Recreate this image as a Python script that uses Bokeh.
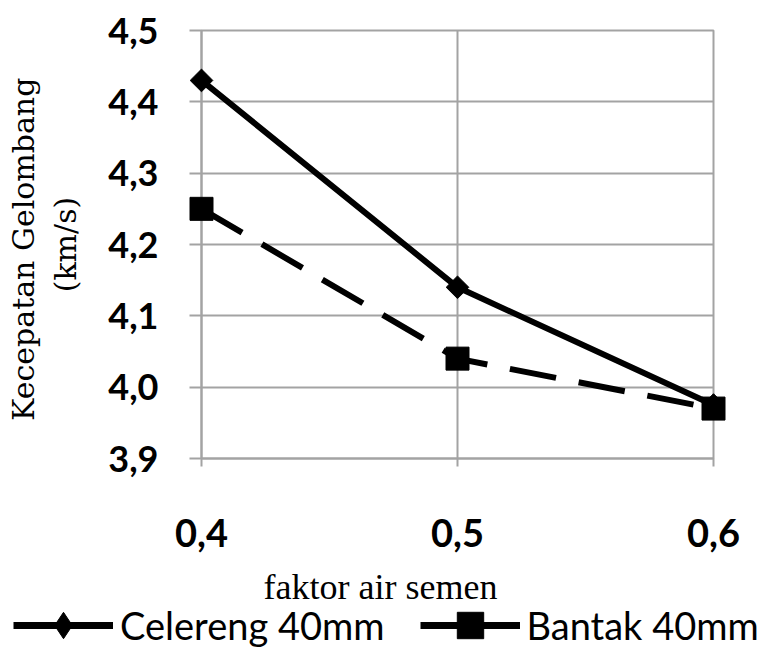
import math
from bokeh.plotting import figure
from bokeh.layouts import column
from bokeh.models import (Legend, LegendItem, Label, FixedTicker,
                          ColumnDataSource, Range1d)
from bokeh.embed import file_html
from bokeh.resources import INLINE

# ---- data ----
x_values = [0.4, 0.5, 0.6]
celereng = [4.43, 4.14, 3.975]
bantak = [4.25, 4.04, 3.97]
series_names = ["Celereng 40mm", "Bantak 40mm"]
x_ticks = [0.4, 0.5, 0.6]
x_tick_labels = ["0,4", "0,5", "0,6"]
y_ticks = [3.9, 4.0, 4.1, 4.2, 4.3, 4.4, 4.5]
y_tick_labels = ["3,9", "4,0", "4,1", "4,2", "4,3", "4,4", "4,5"]
x_title = "faktor air semen"
y_title = "Kecepatan  Gelombang\n(km/s)"

GRID = "#a3a3a3"
TICK_FONT = "Lato"
W = 772

# ---------------- main chart ----------------
p = figure(width=W, height=566,
           x_range=Range1d(0.4, 0.6), y_range=Range1d(3.9, 4.5),
           output_backend="svg", toolbar_location=None,
           min_border_left=201, min_border_right=59,
           min_border_top=30, min_border_bottom=108)
p.background_fill_color = "white"
p.border_fill_color = "white"
p.outline_line_color = GRID
p.outline_line_width = 2

src_c = ColumnDataSource(dict(x=x_values, y=celereng))
src_b = ColumnDataSource(dict(x=x_values, y=bantak))

p.line('x', 'y', source=src_c, line_color="black", line_width=6,
       level="overlay")
p.scatter('x', 'y', source=src_c, marker="square", angle=math.pi / 4,
          size=16, fill_color="black", line_color="black", level="overlay")
p.line('x', 'y', source=src_b, line_color="black", line_width=6,
       line_dash="47 23", level="overlay")
p.scatter('x', 'y', source=src_b, marker="square", size=23,
          fill_color="black", line_color="black", level="overlay")

p.xaxis.ticker = FixedTicker(ticks=x_ticks)
p.xaxis.major_label_overrides = dict(zip(x_ticks, x_tick_labels))
p.yaxis.ticker = FixedTicker(ticks=y_ticks)
p.yaxis.major_label_overrides = dict(zip(y_ticks, y_tick_labels))

for ax in (p.xaxis[0], p.yaxis[0]):
    ax.axis_line_color = GRID
    ax.axis_line_width = 2
    ax.major_tick_line_color = GRID
    ax.major_tick_line_width = 2
    ax.major_tick_in = 0
    ax.minor_tick_line_color = None
    ax.major_label_text_font = TICK_FONT
    ax.major_label_text_font_style = "bold"
    ax.major_label_text_color = "black"

p.xaxis.major_tick_out = 8
p.xaxis.major_label_standoff = 52
p.xaxis.major_label_text_font_size = "38px"

p.yaxis.major_tick_out = 12
p.yaxis.major_label_standoff = 31
p.yaxis.major_label_text_font_size = "36px"
p.yaxis.axis_label = y_title
p.yaxis.axis_label_text_font = "DejaVu Serif"
p.yaxis.axis_label_text_font_size = "30px"
p.yaxis.axis_label_text_font_style = "normal"
p.yaxis.axis_label_text_color = "black"
p.yaxis.axis_label_standoff = 22

p.grid.grid_line_color = GRID
p.grid.grid_line_width = 2

# ---------------- strip below: x title + legend ----------------
q = figure(width=W, height=82, x_range=Range1d(0, 1), y_range=Range1d(0, 1),
           output_backend="svg", toolbar_location=None,
           x_axis_location=None, y_axis_location=None,
           min_border=0, min_border_left=0, min_border_right=0,
           min_border_top=0, min_border_bottom=0)
q.outline_line_color = None
q.grid.visible = False
q.background_fill_color = "white"
q.border_fill_color = "white"

# do not align this strip's frame with the chart's frame
for fig in (p, q):
    if "frame_align" in fig.properties():
        fig.frame_align = False

# legend-only renderers (hidden; the legend shows solid lines)
qc = q.line('x', 'y', source=src_c, line_color="black", line_width=7,
            visible=False)
qcm = q.scatter('x', 'y', source=src_c, marker="diamond",
                fill_color="black", line_color="black", visible=False)
qb = q.line('x', 'y', source=src_b, line_color="black", line_width=7,
            visible=False)
qbm = q.scatter('x', 'y', source=src_b, marker="square",
                fill_color="black", line_color="black", visible=False)

q.add_layout(Label(x=263, y=62, x_units="screen", y_units="screen",
                   text=x_title, text_font="Liberation Serif",
                   text_font_size="36px", text_align="left",
                   text_baseline="alphabetic", text_color="black"))

legend = Legend(items=[LegendItem(label=series_names[0], renderers=[qc, qcm]),
                       LegendItem(label=series_names[1], renderers=[qb, qbm])],
                location=(13, -10), orientation="horizontal",
                glyph_width=100, glyph_height=66, label_standoff=7,
                spacing=35, padding=0, margin=0,
                border_line_color=None, background_fill_alpha=0,
                label_text_font=TICK_FONT, label_text_font_size="38px",
                label_text_color="black")
q.add_layout(legend, "center")

layout = column(p, q, spacing=0)
open("out.html", "w").write(file_html(layout, INLINE))
